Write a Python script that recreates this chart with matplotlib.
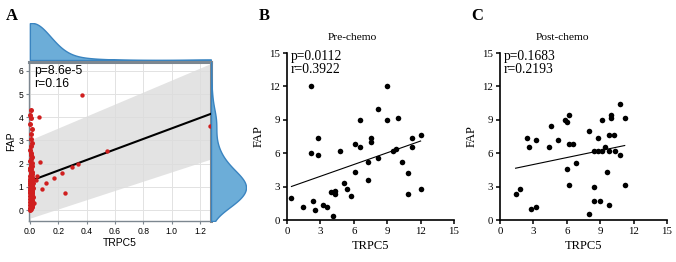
import numpy as np
import matplotlib
matplotlib.use("Agg")
import matplotlib.pyplot as plt

# ---- panel A data (TRPC5 vs FAP, all samples) ----
# dense column of samples near TRPC5 = 0
col_x = [0.000, 0.010, 0.004, 0.018, 0.007, 0.012, 0.002, 0.015, 0.009, 0.020,
         0.001, 0.013, 0.006, 0.017, 0.003, 0.011, 0.008, 0.019, 0.005, 0.014,
         0.000, 0.016, 0.007, 0.010, 0.002, 0.018, 0.012, 0.004, 0.009, 0.015,
         0.001, 0.013, 0.006, 0.020, 0.003, 0.011, 0.008, 0.017, 0.005, 0.014,
         0.000, 0.016, 0.010, 0.004, 0.019, 0.007, 0.012, 0.002, 0.015, 0.009,
         0.001, 0.013, 0.006, 0.018, 0.003, 0.011, 0.008, 0.017, 0.005, 0.014,
         0.000, 0.010, 0.004, 0.016, 0.007, 0.012, 0.002, 0.009, 0.015, 0.006,
         0.011, 0.003, 0.008, 0.013, 0.005, 0.010, 0.012, 0.004, 0.006, 0.002,
         0.009]
col_y = [0.02, 0.05, 0.08, 0.12, 0.15, 0.18, 0.22, 0.25, 0.28, 0.31,
         0.34, 0.37, 0.40, 0.43, 0.46, 0.49, 0.52, 0.55, 0.57, 0.60,
         0.62, 0.65, 0.67, 0.70, 0.72, 0.75, 0.77, 0.80, 0.82, 0.84,
         0.87, 0.89, 0.91, 0.94, 0.96, 0.98, 1.00, 1.02, 1.05, 1.07,
         1.09, 1.11, 1.13, 1.16, 1.18, 1.20, 1.23, 1.25, 1.28, 1.30,
         1.33, 1.36, 1.39, 1.42, 1.45, 1.49, 1.53, 1.57, 1.61, 1.66,
         1.71, 1.76, 1.82, 1.88, 1.95, 2.02, 2.10, 2.18, 2.27, 2.37,
         2.48, 2.60, 2.74, 2.90, 3.08, 3.28, 3.50, 3.72, 3.95, 4.10,
         4.33]
# scattered samples with higher TRPC5
out_x = [0.068, 0.365, 0.075, 0.546, 0.339, 0.294, 0.228, 0.167, 0.115,
         0.085, 0.249, 0.030, 0.040, 0.050, 1.268]
out_y = [4.00, 4.97, 2.06, 2.56, 1.97, 1.84, 1.58, 1.38, 1.15,
         0.92, 0.75, 0.32, 1.30, 1.45, 3.62]
fit_a = [1.25, 2.27]          # intercept, slope
band_x = [0.0, 1.277]
band_lo = [-0.35, 2.2]
band_hi = [3.02, 6.32]
stats_a = "p=8.6e-5\nr=0.16"

# ---- panel B: pre-chemo ----
pre_x = [0.4, 1.4, 2.2, 2.2, 2.35, 2.55, 2.75, 2.75, 3.2, 3.55,
         3.95, 4.35, 4.35, 4.15, 4.75, 5.15, 5.35, 5.75, 6.1, 6.1,
         6.55, 6.55, 7.3, 7.3, 7.55, 7.55, 8.15, 8.15, 8.95, 8.95,
         9.55, 9.75, 9.95, 10.35, 10.85, 10.85, 11.2, 11.2, 12.0, 12.0]
pre_y = [2.0, 1.2, 12.0, 6.0, 1.75, 0.9, 7.4, 5.8, 1.35, 1.2,
         2.55, 2.6, 2.35, 0.4, 6.2, 3.35, 2.75, 2.15, 4.35, 6.8,
         6.6, 9.0, 5.2, 3.6, 7.4, 7.0, 5.55, 10.0, 12.0, 9.0,
         6.2, 6.35, 9.2, 5.2, 4.2, 2.35, 6.6, 7.4, 7.6, 2.8]
pre_fit = [2.87, 0.352]
pre_range = [0.4, 12.0]
stats_b = "p=0.0112\nr=0.3922"

# ---- panel C: post-chemo ----
post_x = [1.4, 1.8, 2.4, 2.6, 2.8, 3.2, 3.2, 4.4, 4.6, 5.2,
          5.8, 6.0, 6.0, 6.2, 6.2, 6.2, 6.6, 6.8, 8.0, 8.0,
          8.4, 8.4, 8.4, 8.8, 8.8, 9.0, 9.2, 9.2, 9.4, 9.6,
          9.8, 9.8, 9.8, 10.2, 10.0, 10.0, 10.3, 10.8, 10.8, 11.2, 11.2]
post_y = [2.35, 2.75, 7.4, 6.6, 0.95, 1.15, 7.2, 6.6, 8.4, 7.2,
          9.0, 8.8, 4.55, 9.4, 6.8, 3.15, 6.8, 5.15, 8.0, 0.55,
          6.2, 3.0, 1.75, 7.4, 6.2, 1.75, 9.0, 6.2, 6.6, 4.35,
          6.2, 1.35, 7.6, 7.6, 9.2, 9.4, 6.2, 5.8, 10.4, 9.2, 3.15]
post_fit = [4.36, 0.208]
post_range = [1.4, 11.2]
stats_c = "p=0.1683\nr=0.2193"

W, H = 676, 262
fig = plt.figure(figsize=(W / 100, H / 100), dpi=100)

def fx(px):
    return px / W

def fy(py):
    return 1 - py / H

sans = "Liberation Sans"
serif = "Liberation Serif"
frame = "#7d8790"
blue_fill = "#6cadd8"
blue_edge = "#3a84c0"
red = "#d01f1f"

def kde(vals, grid, bw):
    d = (np.asarray(grid)[:, None] - np.asarray(vals)[None, :]) / bw
    return np.exp(-0.5 * d ** 2).sum(axis=1)

# ---------------- Panel A ----------------
xlim_a = (-0.006, 1.277)
ylim_a = (-0.47, 6.38)
ax = fig.add_axes([fx(29), fy(221), fx(211 - 29), fy(62) - fy(221)])
ax.set_xlim(*xlim_a)
ax.set_ylim(*ylim_a)
ax.set_xticks(np.arange(0, 1.3, 0.2))
ax.set_yticks(range(0, 7))
ax.grid(True, color="#e2e2e2", lw=0.7)
ax.set_axisbelow(True)
ax.fill_between(band_x, band_lo, band_hi, color="#dcdcdc", alpha=0.8, lw=0, zorder=1)
ax.plot([0, xlim_a[1]], [fit_a[0], fit_a[0] + fit_a[1] * xlim_a[1]], color="black", lw=1.5, zorder=3)
ax.scatter(col_x, col_y, s=13, color=red, lw=0, zorder=4, clip_on=False)
ax.scatter(out_x, out_y, s=10, color=red, lw=0, zorder=4, clip_on=False)
for side in ["left", "bottom"]:
    ax.spines[side].set_color(frame)
    ax.spines[side].set_linewidth(1.0)
for side in ["top", "right"]:
    ax.spines[side].set_color(frame)
    ax.spines[side].set_linewidth(2.2)
ax.tick_params(length=2.5, width=0.8, color=frame, labelsize=6.2, pad=1.5)
ax.set_xticklabels(["0.0", "0.2", "0.4", "0.6", "0.8", "1.0", "1.2"], family=sans)
ax.set_yticklabels([str(v) for v in range(0, 7)], family=sans)
ax.set_xlabel("TRPC5", family=sans, fontsize=7.5, labelpad=2)
ax.set_ylabel("FAP", family=sans, fontsize=7.5, labelpad=2)
ax.text(0.03, 6.25, stats_a, family=sans, fontsize=8.7, va="top", ha="left", linespacing=1.1)

all_x = col_x + out_x
all_y = col_y + out_y

ax_top = fig.add_axes([fx(29), fy(60), fx(211 - 29), fy(23) - fy(60)])
gx = np.linspace(0, xlim_a[1], 300)
dx = kde(all_x, gx, 0.13)
ax_top.fill_between(gx, 0, dx, color=blue_fill, edgecolor=blue_edge, lw=1.0)
ax_top.set_xlim(*xlim_a)
ax_top.set_ylim(0, dx.max())
ax_top.axis("off")

ax_r = fig.add_axes([fx(211), fy(221), fx(246 - 211), fy(62) - fy(221)])
gy = np.linspace(ylim_a[0], ylim_a[1], 300)
dy = kde(all_y, gy, 0.45)
ax_r.fill_betweenx(gy, 0, dy, color=blue_fill, edgecolor=blue_edge, lw=1.0)
ax_r.set_ylim(*ylim_a)
ax_r.set_xlim(0, dy.max())
ax_r.axis("off")

fig.text(fx(6), fy(20), "A", family=serif, fontsize=12, fontweight="bold")

# ---------------- Panels B and C ----------------
def chemo_panel(left_px, right_px, xs, ys, fit, rng, stats, title, title_px, letter_px, letter):
    a = fig.add_axes([fx(left_px), fy(220), fx(right_px - left_px), fy(53) - fy(220)])
    a.set_xlim(0, 15)
    a.set_ylim(0, 15)
    a.set_xticks(range(0, 16, 3))
    a.set_yticks(range(0, 16, 3))
    a.spines["top"].set_visible(False)
    a.spines["right"].set_visible(False)
    for side in ["left", "bottom"]:
        a.spines[side].set_linewidth(1.2)
    a.tick_params(direction="out", length=3, width=1.1, labelsize=7.8, pad=2)
    for lab in a.get_xticklabels() + a.get_yticklabels():
        lab.set_family(serif)
    a.scatter(xs, ys, s=16, color="black", lw=0, zorder=3, clip_on=False)
    a.plot(rng, [fit[0] + fit[1] * rng[0], fit[0] + fit[1] * rng[1]], color="black", lw=0.8)
    a.text(0.35, 15.3, stats, family=serif, fontsize=9.8, va="top", ha="left", linespacing=1.05)
    a.set_xlabel("TRPC5", family=serif, fontsize=9, labelpad=3)
    a.set_ylabel("FAP", family=serif, fontsize=9, labelpad=3)
    fig.text(fx(title_px), fy(38), title, family=serif, fontsize=8.2, ha="center", va="center")
    fig.text(fx(letter_px), fy(20), letter, family=serif, fontsize=12, fontweight="bold")
    return a

chemo_panel(287, 454, pre_x, pre_y, pre_fit, pre_range, stats_b, "Pre-chemo", 352, 259, "B")
chemo_panel(500, 667, post_x, post_y, post_fit, post_range, stats_c, "Post-chemo", 562, 471, "C")

fig.savefig("out.png", dpi=100)
